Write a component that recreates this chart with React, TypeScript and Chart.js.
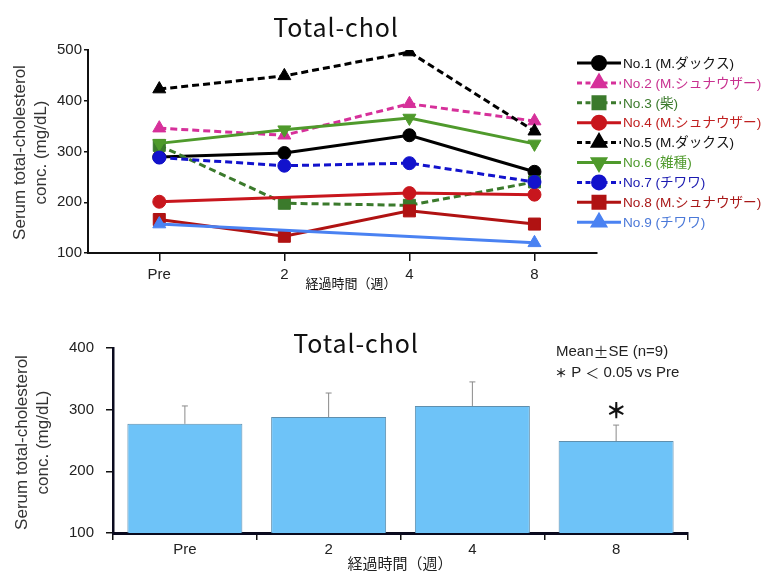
import React, { useEffect, useRef } from 'react';
import { Chart, registerables } from 'chart.js';
import { drawPoint } from 'chart.js/helpers';

Chart.register(...registerables);

const categories = ['Pre', '2', '4', '8'];
const xPositions = [0, 1, 2, 3];

const no1 = [289, 297, 332, 260];
const no2 = [346, 332, 394, 360];
const no3 = [312, 198, 194, 240];
const no4 = [201, null, 218, 215];
const no5 = [423, 449, 496, 340];
const no6 = [316, 343, 366, 315];
const no7 = [288, 272, 277, 240];
const no8 = [166, 133, 183, 157];
const no9 = [157, null, null, 120];

const seriesValues = [no1, no2, no3, no4, no5, no6, no7, no8, no9];
const seriesLabels = [
  'No.1 (M.ダックス)',
  'No.2 (M.シュナウザー)',
  'No.3 (柴)',
  'No.4 (M.シュナウザー)',
  'No.5 (M.ダックス)',
  'No.6 (雑種)',
  'No.7 (チワワ)',
  'No.8 (M.シュナウザー)',
  'No.9 (チワワ)',
];
const lineColors = ['#000000', '#d6309a', '#3b7a2c', '#c8161d', '#000000', '#4f9a2c', '#1212cc', '#b01212', '#4a82f2'];
const textColors = ['#111111', '#c8308f', '#3b7a2c', '#c02020', '#111111', '#4f9a2c', '#1a1ab0', '#a81818', '#4a78d8'];
const dashedFlags = [false, true, true, false, true, false, true, false, false];
const pointStyles = ['circle', 'triangle', 'rect', 'circle', 'triangle', 'triangle', 'circle', 'rect', 'triangle'];
const pointRotations = [0, 0, 0, 0, 0, 180, 0, 0, 0];

const yTicksTop = [100, 200, 300, 400, 500];
const yTicksBottom = [100, 200, 300, 400];

const barMeans = [277, 288, 306, 249];
const barSE = [29, 39, 39, 26];
const significant = [false, false, false, true];

const FONT = "'Liberation Sans', 'Noto Sans CJK JP', sans-serif";
const JFONT = "'Noto Sans CJK JP', 'Liberation Sans', sans-serif";
const DASH = [7, 4];

function radiusFor(style: string) {
  if (style === 'rect') return 8.5;
  if (style === 'triangle') return 7.5;
  return 6.5;
}

function drawSegments(ctx: any, x: number, y: number, segs: [string, string][]) {
  let cx = x;
  segs.forEach(([text, font]) => {
    ctx.font = font;
    ctx.fillText(text, cx, y);
    cx += ctx.measureText(text).width;
  });
}

const topTextPlugin = {
  id: 'topText',
  afterDraw(chart: any) {
    const ctx = chart.ctx;
    const ca = chart.chartArea;
    ctx.save();
    ctx.fillStyle = '#111';
    ctx.textAlign = 'center';
    ctx.textBaseline = 'middle';
    ctx.font = `25px ${JFONT}`;
    (ctx as any).letterSpacing = '0.9px';
    ctx.fillText('Total-chol', 336, 27);
    (ctx as any).letterSpacing = '0px';
    ctx.font = `13px ${JFONT}`;
    ctx.fillText('経過時間（週）', 351, 283);
    const cy = (ca.top + ca.bottom) / 2 + 1;
    ctx.font = `17px ${FONT}`;
    ctx.fillStyle = '#333';
    ctx.translate(20, cy);
    ctx.rotate(-Math.PI / 2);
    ctx.fillText('Serum total-cholesterol', 0, 0);
    ctx.fillText('conc. (mg/dL)', 0, 21);
    ctx.restore();

    // legend
    ctx.save();
    const x0 = 577;
    const x1 = 621;
    const y0 = 63;
    const step = 19.9;
    chart.data.datasets.forEach((ds: any, i: number) => {
      const y = y0 + i * step;
      ctx.save();
      ctx.strokeStyle = lineColors[i];
      ctx.lineWidth = 3;
      ctx.setLineDash(dashedFlags[i] ? [5, 3.5] : []);
      ctx.beginPath();
      ctx.moveTo(x0, y);
      ctx.lineTo(x1, y);
      ctx.stroke();
      ctx.setLineDash([]);
      ctx.fillStyle = lineColors[i];
      ctx.strokeStyle = lineColors[i];
      drawPoint(ctx, { pointStyle: pointStyles[i], rotation: pointRotations[i], radius: radiusFor(pointStyles[i]), borderWidth: 1 } as any, (x0 + x1) / 2, y);
      ctx.restore();
      ctx.fillStyle = textColors[i];
      ctx.font = `13.6px ${FONT}`;
      ctx.textAlign = 'left';
      ctx.textBaseline = 'middle';
      ctx.fillText(seriesLabels[i], x1 + 2, y + 1);
    });
    ctx.restore();
  },
};

const bottomTextPlugin = {
  id: 'bottomText',
  afterDatasetsDraw(chart: any) {
    const ctx = chart.ctx;
    const ca = chart.chartArea;
    const yScale = chart.scales.y;
    const meta = chart.getDatasetMeta(0);
    ctx.save();
    ctx.strokeStyle = '#8a8a8a';
    ctx.lineWidth = 1;
    meta.data.forEach((el: any, i: number) => {
      const yTop = yScale.getPixelForValue(barMeans[i] + barSE[i]);
      ctx.beginPath();
      ctx.moveTo(el.x, el.y);
      ctx.lineTo(el.x, yTop);
      ctx.moveTo(el.x - 3, yTop);
      ctx.lineTo(el.x + 3, yTop);
      ctx.stroke();
      if (significant[i]) {
        ctx.fillStyle = '#111';
        ctx.font = `900 21px ${JFONT}`;
        ctx.textAlign = 'center';
        ctx.textBaseline = 'middle';
        ctx.fillText('＊', el.x, yTop - 15);
      }
    });
    ctx.fillStyle = '#111';
    ctx.textAlign = 'center';
    ctx.textBaseline = 'middle';
    ctx.font = `25px ${JFONT}`;
    (ctx as any).letterSpacing = '0.9px';
    ctx.fillText('Total-chol', 356, 48);
    (ctx as any).letterSpacing = '0px';
    ctx.textAlign = 'left';
    ctx.fillStyle = '#222';
    drawSegments(ctx, 556, 57, [
      ['Mean', `15px ${FONT}`],
      ['±', `15px ${JFONT}`],
      ['SE (n=9)', `15px ${FONT}`],
    ]);
    drawSegments(ctx, 555, 78, [
      ['＊', `bold 12px ${JFONT}`],
      [' P ', `15px ${FONT}`],
      ['＜', `14px ${JFONT}`],
      [' 0.05 vs Pre', `15px ${FONT}`],
    ]);
    ctx.textAlign = 'center';
    ctx.font = `15px ${JFONT}`;
    ctx.fillText('経過時間（週）', 400, 268);
    const cy = (ca.top + ca.bottom) / 2 + 2;
    ctx.font = `17px ${FONT}`;
    ctx.fillStyle = '#333';
    ctx.translate(22, cy);
    ctx.rotate(-Math.PI / 2);
    ctx.fillText('Serum total-cholesterol', 0, 0);
    ctx.fillText('conc. (mg/dL)', 0, 21);
    ctx.restore();
  },
};

export default function App() {
  const topRef = useRef<HTMLCanvasElement>(null);
  const bottomRef = useRef<HTMLCanvasElement>(null);

  useEffect(() => {
    const datasets = seriesValues.map((vals, i) => ({
      label: seriesLabels[i],
      data: vals.map((v, j) => ({ x: xPositions[j], y: v })),
      borderColor: lineColors[i],
      backgroundColor: lineColors[i],
      borderWidth: 3,
      borderDash: dashedFlags[i] ? DASH : [],
      pointStyle: pointStyles[i],
      pointRotation: pointRotations[i],
      pointRadius: radiusFor(pointStyles[i]),
      pointBorderWidth: 1,
      pointBackgroundColor: lineColors[i],
      pointBorderColor: lineColors[i],
      spanGaps: true,
      tension: 0,
      order: 9 - i,
    }));

    const top = new Chart(topRef.current!, {
      type: 'line',
      data: { datasets } as any,
      options: {
        animation: false,
        responsive: false,
        maintainAspectRatio: false,
        layout: { padding: { left: 0, right: 171, top: 50, bottom: 0 } },
        plugins: { legend: { display: false }, tooltip: { enabled: false }, title: { display: false } },
        scales: {
          x: {
            type: 'linear',
            min: -0.57,
            max: 3.5,
            afterBuildTicks: (s: any) => { s.ticks = xPositions.map((v) => ({ value: v })); },
            afterFit: (s: any) => { s.height = 42; },
            ticks: {
              callback: (v: any) => categories[xPositions.indexOf(Number(v))] ?? '',
              font: { size: 15, family: FONT },
              color: '#222',
              padding: 5,
              maxRotation: 0,
              autoSkip: false,
            },
            grid: { display: true, drawOnChartArea: false, drawTicks: true, tickLength: 8, color: '#111', lineWidth: 1.5 },
            border: { display: true, color: '#111', width: 2 },
          },
          y: {
            type: 'linear',
            min: 100,
            max: 500,
            afterBuildTicks: (s: any) => { s.ticks = yTicksTop.map((v) => ({ value: v })); },
            afterFit: (s: any) => { s.width = 88; },
            ticks: { font: { size: 15, family: FONT }, color: '#222', padding: 2 },
            grid: { display: true, drawOnChartArea: false, drawTicks: true, tickLength: 4, color: '#111', lineWidth: 1.5 },
            border: { display: true, color: '#111', width: 2 },
          },
        },
      },
      plugins: [topTextPlugin],
    } as any);

    const bottom = new Chart(bottomRef.current!, {
      type: 'bar',
      data: {
        labels: categories,
        datasets: [
          {
            label: 'Mean',
            data: barMeans,
            backgroundColor: '#6ec3f8',
            borderColor: '#5f8fae',
            borderWidth: 1,
            barPercentage: 0.8,
            categoryPercentage: 1,
          },
        ],
      },
      options: {
        animation: false,
        responsive: false,
        maintainAspectRatio: false,
        layout: { padding: { left: 0, right: 80, top: 53, bottom: 0 } },
        plugins: { legend: { display: false }, tooltip: { enabled: false }, title: { display: false } },
        scales: {
          x: {
            type: 'category',
            offset: true,
            afterFit: (s: any) => { s.height = 45; },
            ticks: { font: { size: 15, family: FONT }, color: '#222', padding: 1, maxRotation: 0 },
            grid: { display: true, offset: true, drawOnChartArea: false, drawTicks: true, tickLength: 7, color: '#111', lineWidth: 1.5 },
            border: { display: true, color: '#0a0a1e', width: 3 },
          },
          y: {
            type: 'linear',
            min: 100,
            max: 400,
            afterBuildTicks: (s: any) => { s.ticks = yTicksBottom.map((v) => ({ value: v })); },
            afterFit: (s: any) => { s.width = 113; },
            ticks: { font: { size: 15, family: FONT }, color: '#222', padding: 12 },
            grid: { display: true, drawOnChartArea: false, drawTicks: true, tickLength: 7, color: '#111', lineWidth: 1.5 },
            border: { display: true, color: '#0a0a1e', width: 2.5 },
          },
        },
      },
      plugins: [bottomTextPlugin],
    } as any);

    return () => {
      top.destroy();
      bottom.destroy();
    };
  }, []);

  return (
    <div style={{ position: 'fixed', left: 0, top: 0, width: 768, height: 578, background: '#fff' }}>
      <canvas ref={topRef} width={768} height={295} style={{ position: 'absolute', left: 0, top: 0, width: 768, height: 295 }} />
      <canvas ref={bottomRef} width={768} height={283} style={{ position: 'absolute', left: 0, top: 295, width: 768, height: 283 }} />
    </div>
  );
}
